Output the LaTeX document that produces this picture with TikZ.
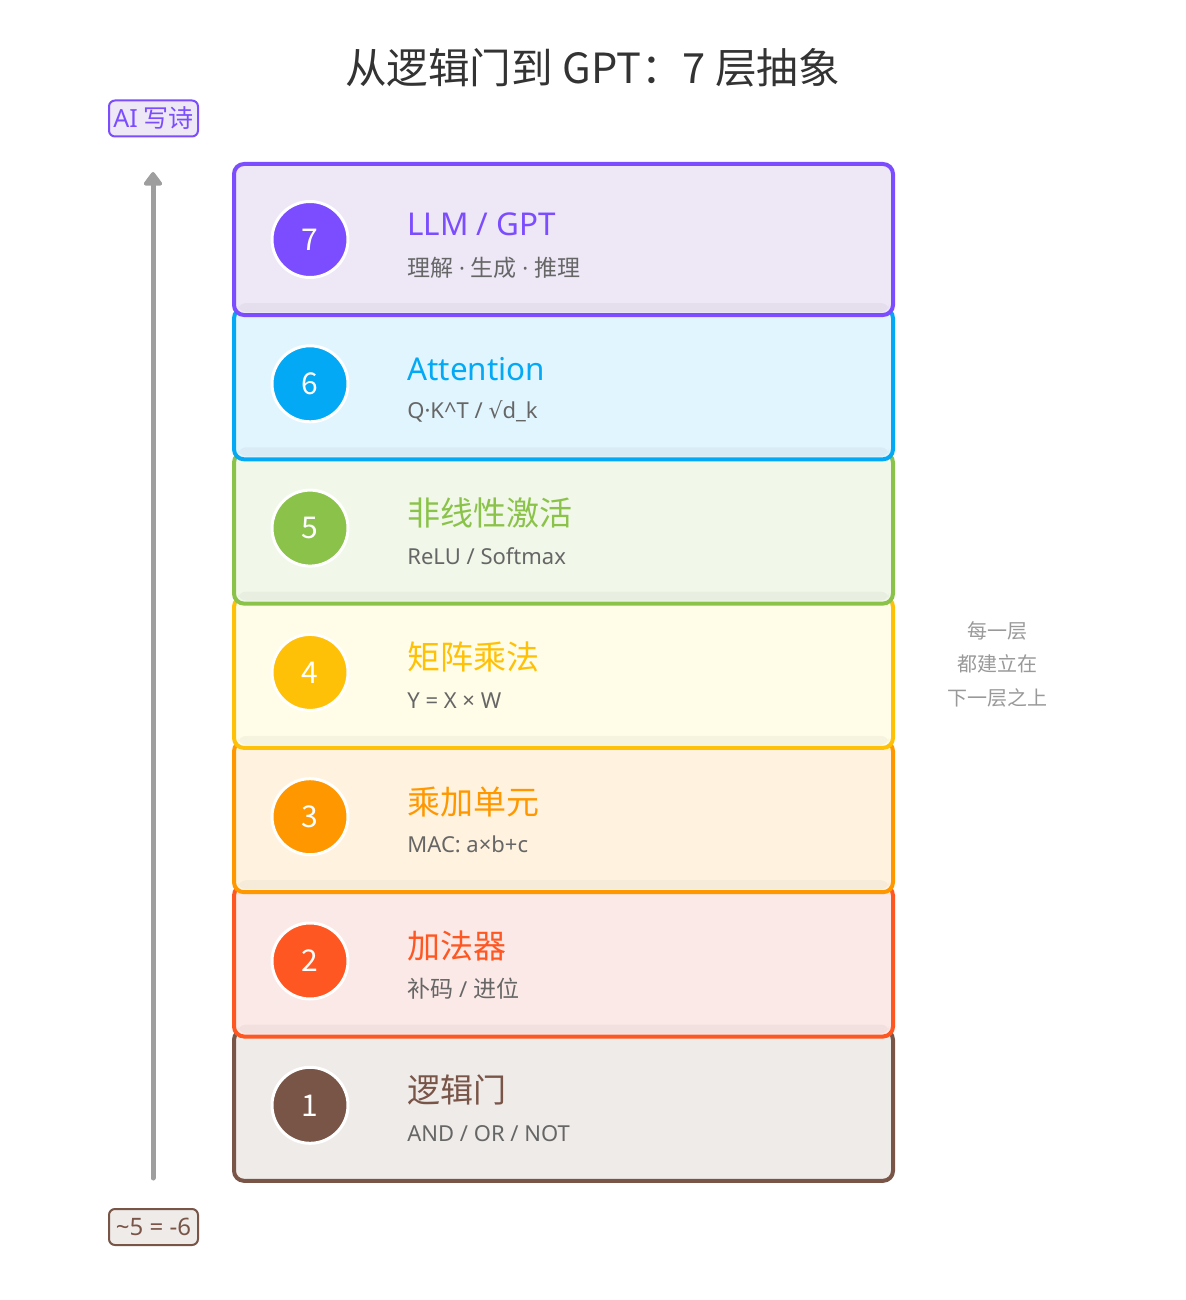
\documentclass[tikz,border=0pt]{standalone}
\usepackage{fontspec}
\setmainfont{Noto Sans CJK SC}
\newfontfamily\latinfont{Noto Sans}
\newfontfamily\symfont{DejaVu Sans}
\usetikzlibrary{positioning,arrows.meta}
\definecolor{gptln}{HTML}{7C4DFF}
\definecolor{gptbg}{HTML}{EDE7F6}
\definecolor{attnln}{HTML}{03A9F4}
\definecolor{attnbg}{HTML}{E1F5FE}
\definecolor{actln}{HTML}{8BC34A}
\definecolor{actbg}{HTML}{F1F8E9}
\definecolor{matln}{HTML}{FFC107}
\definecolor{matbg}{HTML}{FFFDE7}
\definecolor{macln}{HTML}{FF9800}
\definecolor{macbg}{HTML}{FFF3E0}
\definecolor{addln}{HTML}{FF5722}
\definecolor{addbg}{HTML}{FBE9E7}
\definecolor{gateln}{HTML}{795548}
\definecolor{gatebg}{HTML}{EFEBE9}
\definecolor{subgrey}{HTML}{666666}
\definecolor{notegrey}{HTML}{999999}
\definecolor{titlegrey}{HTML}{333333}
\definecolor{axisgrey}{HTML}{9E9E9E}
\begin{document}
\begin{tikzpicture}[
    x=0.5pt, y=-0.5pt,
    node distance=-3.35pt,
    layer/.style={rectangle, rounded corners=5pt, minimum width=329.5pt, minimum height=75.5pt, line width=2pt, outer sep=0pt, inner sep=0pt},
    badge/.style={circle, minimum size=38pt, inner sep=0pt, draw=white, line width=1.5pt, text=white, font=\fontsize{15}{18}\selectfont},
    head/.style={anchor=west, inner sep=0pt, font=\fontsize{16.5}{20}\selectfont},
    lathead/.style={head, font=\latinfont\fontsize{15.7}{20}\selectfont},
    sub/.style={anchor=west, inner sep=0pt, text=subgrey, font=\fontsize{11.5}{14}\selectfont},
    latsub/.style={sub, font=\latinfont\fontsize{11}{14}\selectfont},
    tag/.style={rectangle, rounded corners=3pt, line width=1pt, minimum width=44.5pt, minimum height=18pt, inner sep=0pt, font=\fontsize{12.5}{14}\selectfont},
    arrow/.style={-{Triangle[round, width=10.5pt, length=7.5pt]}, line width=2.5pt, line cap=round, draw=axisgrey},
    strip/.style={fill=black, fill opacity=0.035, rounded corners=4pt}
]
    \useasboundingbox (0,0) rectangle (1185,1300);

    \node[font=\fontsize{20.8}{24}\selectfont, text=titlegrey] (title) at (592.5,68) {从逻辑门到 GPT：7 层抽象};

    \node[layer, draw=gateln, fill=gatebg] (layer1) at (563.5,1105.3) {};
    \node[badge, fill=gateln] (num1) at ([xshift=38pt]layer1.west) {1};
    \node[head, text=gateln] (head1) at ([xshift=86.5pt, yshift=7.5pt]layer1.west) {逻辑门};
    \node[latsub] (sub1) at ([xshift=86.5pt, yshift=-14pt]layer1.west) {AND / OR / NOT};

    \node[layer, draw=addln, fill=addbg, above=of layer1] (layer2) {};
    \fill[strip] ([xshift=2pt, yshift=1.5pt]layer2.south west) rectangle ([xshift=-2pt, yshift=6pt]layer2.south east);
    \node[badge, fill=addln] (num2) at ([xshift=38pt]layer2.west) {2};
    \node[head, text=addln] (head2) at ([xshift=86.5pt, yshift=7.5pt]layer2.west) {加法器};
    \node[sub] (sub2) at ([xshift=86.5pt, yshift=-14pt]layer2.west) {补码{\latinfont\fontsize{11}{14}\selectfont{} / }进位};

    \node[layer, draw=macln, fill=macbg, above=of layer2] (layer3) {};
    \fill[strip] ([xshift=2pt, yshift=1.5pt]layer3.south west) rectangle ([xshift=-2pt, yshift=6pt]layer3.south east);
    \node[badge, fill=macln] (num3) at ([xshift=38pt]layer3.west) {3};
    \node[head, text=macln] (head3) at ([xshift=86.5pt, yshift=7.5pt]layer3.west) {乘加单元};
    \node[latsub] (sub3) at ([xshift=86.5pt, yshift=-14pt]layer3.west) {MAC: a×b+c};

    \node[layer, draw=matln, fill=matbg, above=of layer3] (layer4) {};
    \fill[strip] ([xshift=2pt, yshift=1.5pt]layer4.south west) rectangle ([xshift=-2pt, yshift=6pt]layer4.south east);
    \node[badge, fill=matln] (num4) at ([xshift=38pt]layer4.west) {4};
    \node[head, text=matln] (head4) at ([xshift=86.5pt, yshift=7.5pt]layer4.west) {矩阵乘法};
    \node[latsub] (sub4) at ([xshift=86.5pt, yshift=-14pt]layer4.west) {Y = X × W};

    \node[layer, draw=actln, fill=actbg, above=of layer4] (layer5) {};
    \fill[strip] ([xshift=2pt, yshift=1.5pt]layer5.south west) rectangle ([xshift=-2pt, yshift=6pt]layer5.south east);
    \node[badge, fill=actln] (num5) at ([xshift=38pt]layer5.west) {5};
    \node[head, text=actln] (head5) at ([xshift=86.5pt, yshift=7.5pt]layer5.west) {非线性激活};
    \node[latsub] (sub5) at ([xshift=86.5pt, yshift=-14pt]layer5.west) {ReLU / Softmax};

    \node[layer, draw=attnln, fill=attnbg, above=of layer5] (layer6) {};
    \fill[strip] ([xshift=2pt, yshift=1.5pt]layer6.south west) rectangle ([xshift=-2pt, yshift=6pt]layer6.south east);
    \node[badge, fill=attnln] (num6) at ([xshift=38pt]layer6.west) {6};
    \node[lathead, text=attnln] (head6) at ([xshift=86.5pt, yshift=7.5pt]layer6.west) {Attention};
    \node[latsub] (sub6) at ([xshift=86.5pt, yshift=-14pt]layer6.west) {Q·K\textasciicircum T / {\symfont √}d\_k};

    \node[layer, draw=gptln, fill=gptbg, above=of layer6] (layer7) {};
    \fill[strip] ([xshift=2pt, yshift=1.5pt]layer7.south west) rectangle ([xshift=-2pt, yshift=6pt]layer7.south east);
    \node[badge, fill=gptln] (num7) at ([xshift=38pt]layer7.west) {7};
    \node[lathead, text=gptln] (head7) at ([xshift=86.5pt, yshift=7.5pt]layer7.west) {LLM / GPT};
    \node[sub] (sub7) at ([xshift=86.5pt, yshift=-14pt]layer7.west) {理解{\latinfont\fontsize{11}{14}\selectfont{} · }生成{\latinfont\fontsize{11}{14}\selectfont{} · }推理};

    \coordinate (base) at (153,1178);
    \coordinate (apex) at (153,172);
    \draw[arrow] (base) -- (apex);

    \node[tag, draw=gptln, fill=gptbg, text=gptln] (aitag) at (153.5,118.5) {{\latinfont AI} 写诗};
    \node[tag, draw=gateln, fill=gatebg, text=gateln, font=\latinfont\fontsize{12}{14}\selectfont] (gatetag) at (153.5,1227) {\textasciitilde 5 = -6};

    \node[align=center, text=notegrey, font=\fontsize{10}{16.75}\selectfont] (note) at (997,664) {每一层\\都建立在\\下一层之上};
\end{tikzpicture}
\end{document}
